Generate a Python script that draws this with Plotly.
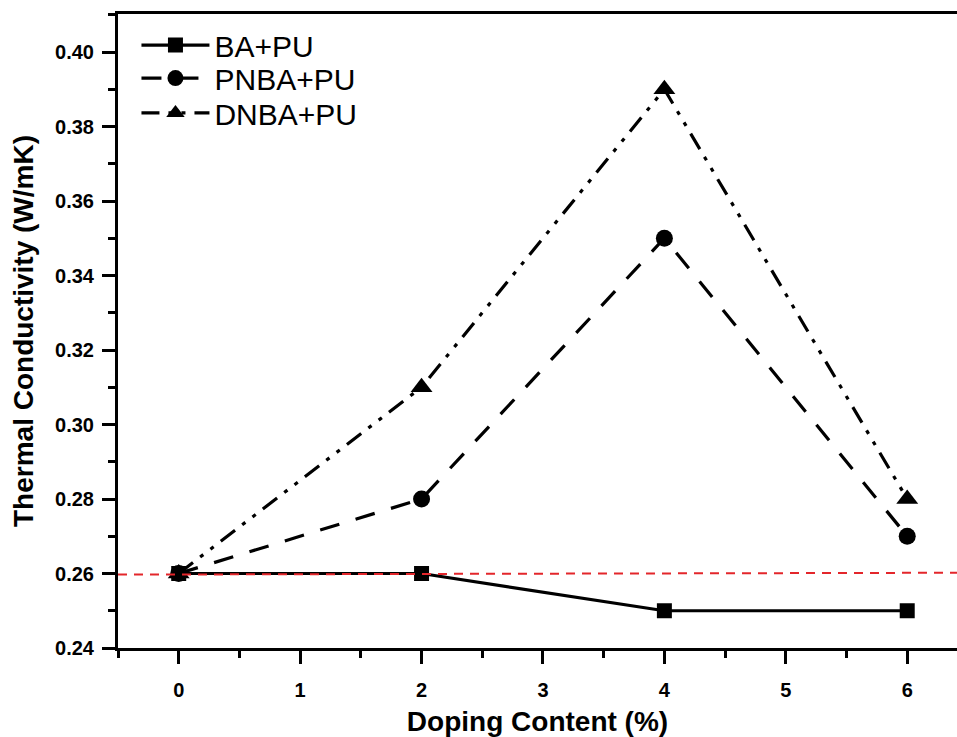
import plotly.graph_objects as go

doping = [0, 2, 4, 6]
ba_pu = [0.26, 0.26, 0.25, 0.25]
pnba_pu = [0.26, 0.28, 0.35, 0.27]
dnba_pu = [0.26, 0.31, 0.39, 0.28]
ref_x = [-0.5, 6.41]
ref_y = [0.2597, 0.2602]

font_fam = "Liberation Sans, Arial, sans-serif"

fig = go.Figure()
fig.add_trace(go.Scatter(x=doping, y=ba_pu, name="BA+PU", mode="lines+markers",
                         line=dict(color="black", width=3.2),
                         marker=dict(symbol="square", size=15, color="black"),
                         cliponaxis=False, legend="legend"))
fig.add_trace(go.Scatter(x=doping, y=pnba_pu, name="PNBA+PU", mode="lines+markers",
                         line=dict(color="black", width=3.2, dash="20px,17px"),
                         marker=dict(symbol="circle", size=17, color="black"),
                         cliponaxis=False, legend="legend2"))
fig.add_trace(go.Scatter(x=doping, y=dnba_pu, name="DNBA+PU", mode="lines+markers",
                         line=dict(color="black", width=3.2, dash="18px,9px,4px,9px,4px,9px"),
                         marker=dict(symbol="triangle-up", size=19, color="black"),
                         cliponaxis=False, legend="legend3"))
fig.add_trace(go.Scatter(x=ref_x, y=ref_y, mode="lines", showlegend=False,
                         line=dict(color="#e3262b", width=2, dash="9px,7px"),
                         hoverinfo="skip"))

def leg(yc):
    return dict(x=0.022, y=yc, xanchor="left", yanchor="middle",
                font=dict(size=30, family=font_fam), itemwidth=68,
                bgcolor="rgba(0,0,0,0)")

fig.update_layout(
    width=957, height=737,
    margin=dict(l=118, r=0, t=14, b=89),
    paper_bgcolor="white", plot_bgcolor="white",
    font=dict(family=font_fam, color="black"),
    legend=leg(0.951), legend2=leg(0.899), legend3=leg(0.844),
    xaxis=dict(range=[-0.5, 6.41], showgrid=False, zeroline=False,
               showline=True, linecolor="black", linewidth=3, mirror=True,
               ticks="outside", ticklen=13, tickwidth=2.5, tickcolor="black",
               tick0=0, dtick=1, ticklabelstandoff=9,
               minor=dict(ticks="outside", ticklen=7, tickwidth=2.5, tickcolor="black", dtick=0.5, tick0=0),
               tickfont=dict(size=20, family=font_fam, weight="bold"),
               title=dict(text="Doping Content (%)", standoff=14,
                          font=dict(size=28, family=font_fam, weight="bold"))),
    yaxis=dict(range=[0.24, 0.4102], showgrid=False, zeroline=False,
               showline=True, linecolor="black", linewidth=3,
               ticks="outside", ticklen=13, tickwidth=2.5, tickcolor="black",
               tick0=0.24, dtick=0.02, tickformat=".2f", ticklabelstandoff=4,
               minor=dict(ticks="outside", ticklen=7, tickwidth=2.5, tickcolor="black", dtick=0.01, tick0=0.24),
               tickfont=dict(size=20, family=font_fam, weight="bold"),
               title=dict(text="Thermal Conductivity (W/mK)", standoff=14,
                          font=dict(size=28, family=font_fam, weight="bold"))),
)

fig.write_html("out.html")
